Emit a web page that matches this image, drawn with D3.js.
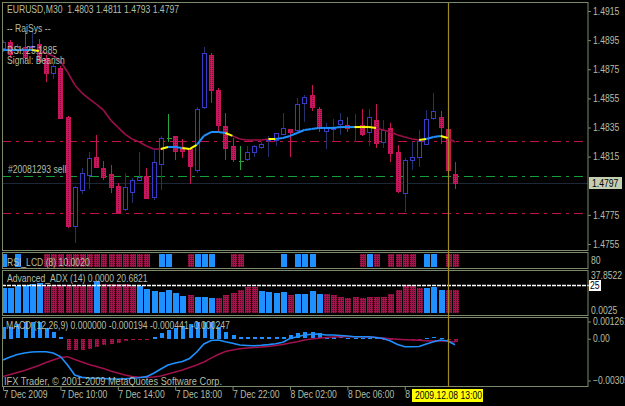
<!DOCTYPE html>
<html>
<head>
<meta charset="utf-8">
<script src="https://d3js.org/d3.v7.min.js"></script>
<style>
  body { margin: 0; background: #000; }
  text { font-family: "Liberation Sans", Arial, sans-serif; font-size: 10px; fill: #b4bea6; white-space: pre; }
</style>
</head>
<body>
<svg id="chart" width="625" height="406"></svg>
<script>
// EURUSD M30, one bar per 30 minutes from 7 Dec 2009 06:00 to 8 Dec 13:30
var opens  = [1.4890,1.4894,1.4888,1.4890,1.4890,1.4892,1.4883,1.4872,1.4876,1.4842,
              1.4767,1.4792,1.4802,1.4815,1.4807,1.4803,1.4795,1.4779,1.4791,1.4799,
              1.4802,1.4787,1.4810,1.4828,1.4829,1.4821,1.4820,1.4806,1.4849,1.4885,
              1.4861,1.4836,1.4822,1.4812,1.4813,1.4818,1.4822,1.4826,1.4826,1.4831,
              1.4834,1.4833,1.4852,1.4857,1.4848,1.4833,1.4834,1.4837,1.4837,1.4835,
              1.4837,1.4832,1.4840,1.4825,1.4835,1.4818,1.4790,1.4813,1.4815,1.4824,
              1.4841,1.4842,1.4834,1.4803];
var highs  = [1.4895,1.4895,1.4892,1.4901,1.4901,1.4896,1.4885,1.4880,1.4877,1.4843,
              1.4795,1.4807,1.4818,1.4830,1.4812,1.4809,1.4797,1.4804,1.4800,1.4818,
              1.4807,1.4820,1.4829,1.4844,1.4829,1.4827,1.4820,1.4849,1.4890,1.4886,
              1.4862,1.4845,1.4828,1.4822,1.4822,1.4823,1.4825,1.4829,1.4831,1.4845,
              1.4834,1.4855,1.4857,1.4864,1.4849,1.4838,1.4841,1.4845,1.4842,1.4844,
              1.4848,1.4848,1.4851,1.4840,1.4838,1.4823,1.4814,1.4825,1.4833,1.4847,
              1.4859,1.4846,1.4835,1.4811];
var lows   = [1.4887,1.4883,1.4886,1.4881,1.4887,1.4879,1.4866,1.4868,1.4841,1.4766,
              1.4756,1.4789,1.4793,1.4807,1.4799,1.4790,1.4776,1.4778,1.4783,1.4798,
              1.4786,1.4785,1.4792,1.4825,1.4813,1.4814,1.4796,1.4804,1.4848,1.4852,
              1.4832,1.4813,1.4811,1.4806,1.4812,1.4815,1.4820,1.4815,1.4822,1.4830,
              1.4815,1.4831,1.4839,1.4846,1.4832,1.4820,1.4826,1.4830,1.4832,1.4825,
              1.4829,1.4822,1.4821,1.4821,1.4811,1.4790,1.4777,1.4806,1.4808,1.4823,
              1.4840,1.4824,1.4806,1.4793];
var closes = [1.4894,1.4886,1.4891,1.4883,1.4891,1.4880,1.4873,1.4877,1.4842,1.4767,
              1.4794,1.4804,1.4814,1.4808,1.4801,1.4794,1.4777,1.4794,1.4799,1.4801,
              1.4787,1.4811,1.4828,1.4828,1.4819,1.4819,1.4808,1.4848,1.4886,1.4861,
              1.4837,1.4821,1.4813,1.4812,1.4818,1.4822,1.4824,1.4827,1.4831,1.4835,
              1.4832,1.4851,1.4856,1.4849,1.4835,1.4835,1.4835,1.4840,1.4835,1.4836,
              1.4831,1.4842,1.4824,1.4833,1.4818,1.4791,1.4813,1.4815,1.4826,1.4841,
              1.4846,1.4835,1.4806,1.4797];

// RajSys moving average and the colour of each segment (b rising, y flat, r falling)
var maValues = [1.48882,1.48882,1.48882,1.48882,1.48882,1.48875,1.48862,1.48841,1.48807,1.48731,
                1.48642,1.48587,1.48546,1.48511,1.48470,1.48401,1.48353,1.48305,1.48271,1.48250,
                1.48223,1.48202,1.48202,1.48216,1.48216,1.48209,1.48202,1.48230,1.48292,1.48319,
                1.48319,1.48312,1.48292,1.48271,1.48264,1.48264,1.48264,1.48271,1.48271,1.48278,
                1.48292,1.48312,1.48333,1.48340,1.48347,1.48347,1.48347,1.48353,1.48353,1.48353,
                1.48353,1.48353,1.48347,1.48333,1.48319,1.48298,1.48285,1.48271,1.48264,1.48271,
                1.48285,1.48292,1.48278,1.48250];
var maSegColor = ["b","b","b","b","y","r","r","r","r","r","r","r","r","r","r","r","r","r","r","r",
                  "r","r","y","b","b","y","y","b","b","b","b","y","r","r","r","r","r","y","b","b",
                  "b","b","b","b","b","b","b","b","b","y","y","y","r","r","r","r","r","r","y","b",
                  "b","y","r"];

// horizontal levels on the price chart
var redLevels = [1.4826, 1.4776];
var orderLevel = 1.4802;
var bidPrice = 1.4797;
var priceTicks = [1.4915,1.4895,1.4875,1.4855,1.4835,1.4815,1.4775,1.4755];

// RSI_LCD signal per bar (b, r or none)
var rsiSignal = ["b","","b","","","","r","r","r","r","r","r","r","r","r","r","r","r","r","r",
                 "r","","b","b","","","r","b","b","b","","","r","r","","","","","","b",
                 "","b","b","b","","","","","","","r","b","r","","r","r","r","r","","b",
                 "b","","r","r"];

// Advanced_ADX histogram
var adxValues = [22.0,22.0,24.0,24.9,25.5,26.1,24.0,24.6,24.6,24.6,
                 24.6,24.9,24.6,28.4,25.5,25.5,25.8,25.8,24.9,24.0,
                 21.5,19.6,18.8,20.2,17.6,15.2,15.8,14.3,13.8,12.9,
                 12.9,15.8,17.6,20.5,22.9,22.9,19.6,18.8,17.6,18.8,
                 15.8,16.7,16.7,19.1,16.7,16.7,15.8,14.3,13.2,14.3,
                 13.2,14.3,14.3,14.3,16.7,20.5,24.9,24.9,22.0,21.7,
                 23.1,20.2,20.2,20.68];
var adxColor = ["b","b","b","b","b","b","r","r","r","r","r","r","r","b","r","r","r","r","r","b",
                "b","b","b","b","b","b","r","b","b","b","r","r","r","r","r","r","b","b","b","b",
                "r","b","b","b","b","r","r","r","r","r","r","r","r","r","r","r","r","r","r","b",
                "b","b","r","r"];

// MACD (12,26,9)
var macdHist = [0.00088,0.00088,0.00105,0.00120,0.00120,0.00120,0.00076,0.00047,0.00015,-0.00082,
                -0.00082,-0.00082,-0.00070,-0.00058,-0.00046,-0.00038,-0.00026,-0.00016,-0.00009,-0.00005,
                -0.00003,0.00015,0.00040,0.00064,0.00081,0.00093,0.00105,0.00120,0.00120,0.00125,
                0.00088,0.00052,0.00027,0.00015,0.00013,0.00013,0.00013,0.00013,0.00013,0.00015,
                0.00027,0.00040,0.00047,0.00047,0.00040,0.00015,0.00013,0.00010,0.00008,0.00005,
                0.00003,0.00003,0.00002,-0.00005,-0.00010,-0.00010,-0.00008,-0.00005,-0.00003,0.00008,
                0.00010,0.00008,-0.00005,-0.000194];
var macdMain = [-0.00155,-0.00133,-0.00115,-0.00104,-0.00097,-0.00095,-0.00095,-0.00104,-0.00130,-0.00192,
                -0.00265,-0.00282,-0.00287,-0.00289,-0.00290,-0.00294,-0.00294,-0.00292,-0.00289,-0.00285,
                -0.00277,-0.00252,-0.00221,-0.00192,-0.00177,-0.00166,-0.00144,-0.00097,-0.00038,-0.00013,
                -0.00009,-0.00022,-0.00033,-0.00046,-0.00049,-0.00051,-0.00048,-0.00043,-0.00036,-0.00026,
                0.00002,0.00015,0.00027,0.00033,0.00035,0.00027,0.00027,0.00024,0.00020,0.00015,
                0.00015,0.00015,0.00009,0.00002,-0.00016,-0.00042,-0.00058,-0.00058,-0.00057,-0.00038,
                -0.00022,-0.00009,-0.00016,-0.000441];
var macdSignal = [-0.00277,-0.00261,-0.00247,-0.00232,-0.00214,-0.00195,-0.00174,-0.00155,-0.00137,-0.00131,
                  -0.00152,-0.00170,-0.00188,-0.00203,-0.00217,-0.00236,-0.00250,-0.00265,-0.00276,-0.00282,
                  -0.00282,-0.00280,-0.00272,-0.00258,-0.00243,-0.00228,-0.00210,-0.00192,-0.00170,-0.00141,
                  -0.00115,-0.00093,-0.00082,-0.00073,-0.00068,-0.00064,-0.00060,-0.00057,-0.00049,-0.00042,
                  -0.00031,-0.00022,-0.00009,-0.00002,0.00003,0.00009,0.00013,0.00015,0.00015,0.00015,
                  0.00015,0.00013,0.00009,0.00005,0.00000,-0.00004,-0.00007,-0.00009,-0.00011,-0.00014,
                  -0.00016,-0.00016,-0.00016,-0.000247];

var timeTickBars = [0, 8, 16, 24, 32, 40, 48, 56];
var timeLabels = ["7 Dec 2009","7 Dec 10:00","7 Dec 14:00","7 Dec 18:00","7 Dec 22:00","8 Dec 02:00","8 Dec 06:00","8 Dec 10:00"];
var cursorBar = 62;

var BLUE = "#1e90ff", CRIMSON = "#c8145a", BORDER = "#7b8a6a", TXT = "#b4bea6";

var svg = d3.select("#chart");
svg.append("rect").attr("width", 625).attr("height", 406).attr("fill", "#000");

// dotted fills like the terminal draws them
var defs = svg.append("defs");
function dotPattern(id, base, dot) {
  var p = defs.append("pattern").attr("id", id).attr("width", 2).attr("height", 2)
    .attr("patternUnits", "userSpaceOnUse");
  p.append("rect").attr("width", 2).attr("height", 2).attr("fill", base);
  p.append("rect").attr("width", 1).attr("height", 1).attr("fill", dot);
}
dotPattern("crim", "#d0145e", "#8a0c3c");
dotPattern("crim2", "#a8104e", "#5e0828");

var panels = { main: [2.5, 250.5], rsi: [252.5, 268.5], adx: [270.5, 315.5], macd: [317.5, 386.5] };
Object.keys(panels).forEach(function(k) {
  defs.append("clipPath").attr("id", "clip-" + k).append("rect")
    .attr("x", 3).attr("y", panels[k][0] + 0.5).attr("width", 585).attr("height", panels[k][1] - panels[k][0] - 1);
});

var bars = d3.range(opens.length);
var x = d3.scaleLinear().domain([0, 63]).range([3, 455]);
var yP = d3.scaleLinear().domain([1.4755, 1.4915]).range([244, 11]);
var yA = d3.scaleLinear().domain([0.0025, 37.8522]).range([313, 270]);
var yM = d3.scaleLinear().domain([-0.003051, 0.001261]).range([380.5, 321.5]);
function bx(i) { return Math.round(x(i)) + 0.5; }

// ---------- main price chart ----------
var main = svg.append("g").attr("clip-path", "url(#clip-main)");

main.selectAll("line.lvl").data(redLevels).enter().append("line")
  .attr("x1", 2).attr("x2", 588).attr("y1", function(d) { return Math.round(yP(d)) + 0.5; })
  .attr("y2", function(d) { return Math.round(yP(d)) + 0.5; })
  .attr("stroke", "#c0124e").attr("stroke-dasharray", "9,5,3,5");
main.append("line").attr("x1", 2).attr("x2", 588)
  .attr("y1", Math.round(yP(orderLevel)) + 0.5).attr("y2", Math.round(yP(orderLevel)) + 0.5)
  .attr("stroke", "#13a036").attr("stroke-dasharray", "9,5,3,5");
main.append("line").attr("x1", 2).attr("x2", 588)
  .attr("y1", Math.round(yP(bidPrice)) + 0.5).attr("y2", Math.round(yP(bidPrice)) + 0.5)
  .attr("stroke", "#1c2836");

var candle = main.append("g").attr("shape-rendering", "crispEdges")
  .selectAll("g").data(bars).enter().append("g");

candle.append("line")
  .attr("x1", bx).attr("x2", bx)
  .attr("y1", function(i) { return yP(highs[i]); })
  .attr("y2", function(i) { return yP(lows[i]); })
  .attr("stroke", function(i) {
    if (closes[i] > opens[i]) return "#23336a";
    if (closes[i] < opens[i]) return CRIMSON;
    return "#22a83c";
  });

candle.filter(function(i) { return closes[i] !== opens[i]; }).append("rect")
  .attr("x", function(i) { return bx(i) - 2; })
  .attr("y", function(i) { return Math.round(yP(Math.max(opens[i], closes[i]))) + 0.5; })
  .attr("width", 4)
  .attr("height", function(i) { return Math.max(1, Math.round(yP(Math.min(opens[i], closes[i])) - yP(Math.max(opens[i], closes[i])))); })
  .attr("fill", function(i) { return closes[i] > opens[i] ? "#000" : "url(#crim)"; })
  .attr("stroke", function(i) { return closes[i] > opens[i] ? "#3a3ac8" : CRIMSON; });

candle.filter(function(i) { return closes[i] === opens[i]; }).append("line")
  .attr("x1", function(i) { return bx(i) - 2; }).attr("x2", function(i) { return bx(i) + 3; })
  .attr("y1", function(i) { return Math.round(yP(closes[i])) + 0.5; })
  .attr("y2", function(i) { return Math.round(yP(closes[i])) + 0.5; })
  .attr("stroke", "#22a83c");

// moving average, one segment per bar pair
var maLine = d3.line().x(function(i) { return x(i); }).y(function(i) { return yP(maValues[i]); });
var maCol = { b: BLUE, y: "#ffff00", r: "#9a1048" };
main.selectAll("path.ma").data(maSegColor).enter().append("path")
  .attr("d", function(c, s) { return maLine([s, s + 1]); })
  .attr("fill", "none")
  .attr("stroke", function(c) { return maCol[c]; })
  .attr("stroke-width", function(c) { return c === "r" ? 1.6 : 2; });

// ---------- RSI_LCD ----------
var rsi = svg.append("g").attr("clip-path", "url(#clip-rsi)").attr("shape-rendering", "crispEdges");
rsi.selectAll("rect").data(bars.filter(function(i) { return rsiSignal[i] !== ""; })).enter().append("rect")
  .attr("x", function(i) { return Math.round(x(i)) - 2; }).attr("width", 6)
  .attr("y", 254).attr("height", 13)
  .attr("fill", function(i) { return rsiSignal[i] === "b" ? BLUE : "url(#crim2)"; });

// ---------- ADX ----------
var adx = svg.append("g").attr("clip-path", "url(#clip-adx)").attr("shape-rendering", "crispEdges");
adx.selectAll("rect").data(bars).enter().append("rect")
  .attr("x", function(i) { return Math.round(x(i)) - 2; }).attr("width", 6)
  .attr("y", function(i) { return Math.round(yA(adxValues[i])); })
  .attr("height", function(i) { return yA(0) - Math.round(yA(adxValues[i])); })
  .attr("fill", function(i) { return adxColor[i] === "b" ? BLUE : "url(#crim2)"; });
svg.append("line").attr("x1", 2).attr("x2", 590)
  .attr("y1", Math.round(yA(25)) + 0.5).attr("y2", Math.round(yA(25)) + 0.5)
  .attr("stroke", "#fff").attr("stroke-width", 1.6).attr("stroke-dasharray", "4,1");

// ---------- MACD ----------
var macd = svg.append("g").attr("clip-path", "url(#clip-macd)");
macd.append("g").attr("shape-rendering", "crispEdges")
  .selectAll("rect").data(bars).enter().append("rect")
  .attr("x", function(i) { return Math.round(x(i)) - 1; }).attr("width", 4)
  .attr("y", function(i) { return Math.round(Math.min(yM(macdHist[i]), yM(0))); })
  .attr("height", function(i) { return Math.max(1, Math.round(Math.abs(yM(macdHist[i]) - yM(0)))); })
  .attr("fill", function(i) { return macdHist[i] >= 0 ? BLUE : "url(#crim2)"; });
macd.append("path").datum(bars)
  .attr("d", d3.line().x(function(i) { return x(i); }).y(function(i) { return yM(macdSignal[i]); }))
  .attr("fill", "none").attr("stroke", "#a0104c").attr("stroke-width", 1.5);
macd.append("path").datum(bars)
  .attr("d", d3.line().x(function(i) { return x(i); }).y(function(i) { return yM(macdMain[i]); }))
  .attr("fill", "none").attr("stroke", BLUE).attr("stroke-width", 1.6);

// ---------- frames ----------
Object.keys(panels).forEach(function(k) {
  svg.append("rect").attr("x", 2.5).attr("y", panels[k][0]).attr("width", 585.5)
    .attr("height", panels[k][1] - panels[k][0])
    .attr("fill", "none").attr("stroke", BORDER);
});

// cursor line
svg.append("line").attr("x1", bx(cursorBar)).attr("x2", bx(cursorBar)).attr("y1", 3).attr("y2", 387)
  .attr("stroke", "#a08a22").attr("stroke-width", 1.2);

// ---------- axes ----------
var priceAxis = d3.axisRight(yP).tickValues(priceTicks).tickSize(3).tickFormat(d3.format(".4f"));
var gpa = svg.append("g").attr("transform", "translate(588,0)").call(priceAxis);
var macdAxis = d3.axisRight(yM).tickValues([0.001261, 0, -0.003051]).tickSize(3)
  .tickFormat(function(d) { return d === 0 ? "0.00" : d3.format(".6f")(d); });
var gma = svg.append("g").attr("transform", "translate(588,0)").call(macdAxis);
var timeAxis = d3.axisBottom(x).tickValues(timeTickBars).tickSize(4)
  .tickFormat(function(d, k) { return timeLabels[k]; });
var gta = svg.append("g").attr("transform", "translate(0,386.5)").call(timeAxis);
[gpa, gma, gta].forEach(function(g) {
  g.select(".domain").remove();
  g.selectAll("line").attr("stroke", BORDER);
  g.selectAll("text").attr("fill", TXT).style("font-size", "10px")
    .style("font-family", "'Liberation Sans',Arial,sans-serif");
});
gpa.selectAll("text").attr("x", 5);
gma.selectAll("text").attr("x", 5);
gta.selectAll("text").attr("text-anchor", "start").attr("x", 0).attr("dy", "0.9em").attr("y", 2);

// ---------- labels ----------
function label(t, px, py, fill) {
  return svg.append("text").attr("x", px).attr("y", py).text(t).style("fill", fill || TXT);
}
label("EURUSD,M30  1.4803 1.4811 1.4793 1.4797", 7, 13);
label("-- RajSys --", 7, 32);
label("RSI: 25.1885", 7, 54);
label("Signal: Bearish", 7, 64);
label("#20081293 sell", 8, 173);
label("RSI_LCD (8) 10.0020", 7, 266);
label("Advanced_ADX (14) 0.0000 20.6821", 7, 282);
label("MACD (12,26,9) 0.000000 -0.000194 -0.000441 -0.000247", 6, 329);
var copy = label("IFX Trader, \u00a9 2001-2009 MetaQuotes Software Corp.", 4, 385).classed("wide", true);

label("80", 591, 264);
label("37.8522", 591, 279);
label("0.0025", 591, 314);
svg.append("rect").attr("x", 589).attr("y", Math.round(yA(25)) - 5).attr("width", 12).attr("height", 11).attr("fill", "#fff");
label("25", 590, Math.round(yA(25)) + 4, "#000");

svg.append("rect").attr("x", 589).attr("y", Math.round(yP(bidPrice)) - 6).attr("width", 33).attr("height", 12).attr("fill", "#c4ceb0");
label(d3.format(".4f")(bidPrice), 592, Math.round(yP(bidPrice)) + 4, "#000");

// the terminal font is narrower than Arial: squeeze every text horizontally
svg.selectAll("text").each(function() {
  var w = this.getComputedTextLength();
  var k = d3.select(this).classed("wide") ? 0.92 : 0.86;
  d3.select(this).attr("textLength", (w * k).toFixed(1)).attr("lengthAdjust", "spacingAndGlyphs");
});

// time cursor box drawn last so it sits over the axis labels
svg.append("rect").attr("x", 412).attr("y", 389).attr("width", 71).attr("height", 13).attr("fill", "#ffff00");
var tl = label("2009.12.08 13:00", 415, 399, "#000");
tl.attr("textLength", (tl.node().getComputedTextLength() * 0.86).toFixed(1)).attr("lengthAdjust", "spacingAndGlyphs");
</script>
</body>
</html>
